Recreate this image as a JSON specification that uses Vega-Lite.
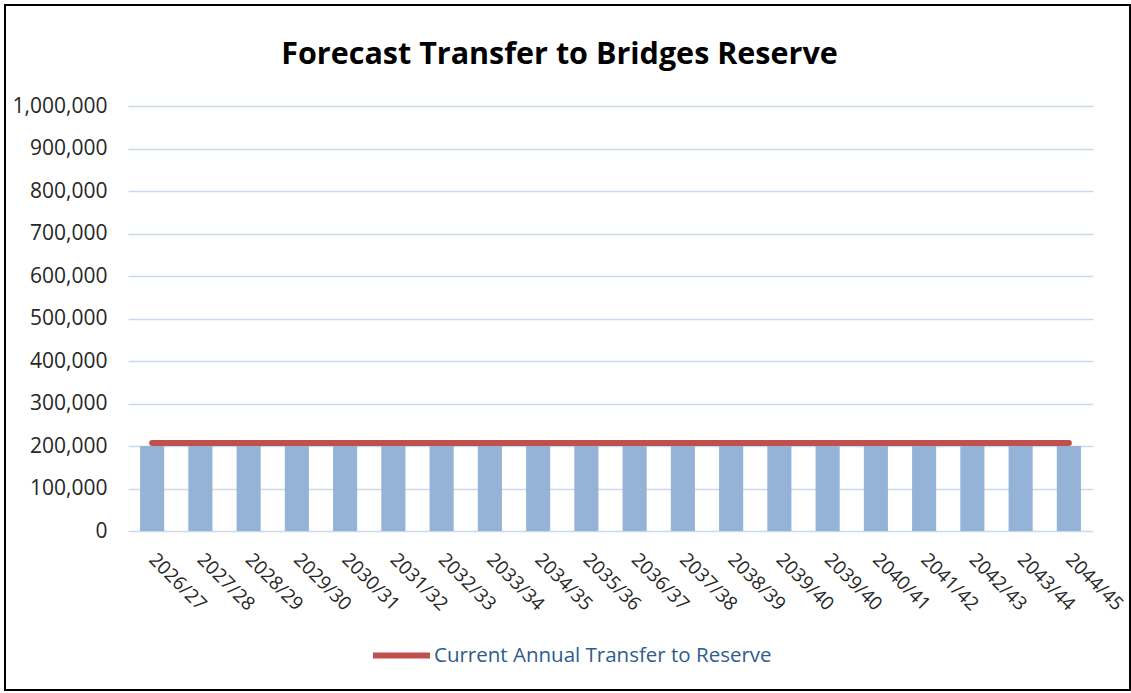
{
  "$schema": "https://vega.github.io/schema/vega-lite/v6.json",
  "autosize": "none",
  "width": 1125,
  "height": 685,
  "padding": {"left": 5, "top": 5, "right": 1, "bottom": 3},
  "background": "white",
  "config": {
    "view": {"stroke": "black", "strokeWidth": 2},
    "font": "Open Sans"
  },
  "title": {
    "text": "Forecast Transfer to Bridges Reserve",
    "font": "Open Sans",
    "fontSize": 30.5,
    "fontWeight": "bold",
    "color": "black",
    "anchor": "middle",
    "dx": -8,
    "offset": -65
  },
  "data": {
    "values": [
      {"period": "2026/27", "forecast": 200000, "current": 207000},
      {"period": "2027/28", "forecast": 200000, "current": 207000},
      {"period": "2028/29", "forecast": 200000, "current": 207000},
      {"period": "2029/30", "forecast": 200000, "current": 207000},
      {"period": "2030/31", "forecast": 200000, "current": 207000},
      {"period": "2031/32", "forecast": 200000, "current": 207000},
      {"period": "2032/33", "forecast": 200000, "current": 207000},
      {"period": "2033/34", "forecast": 200000, "current": 207000},
      {"period": "2034/35", "forecast": 200000, "current": 207000},
      {"period": "2035/36", "forecast": 200000, "current": 207000},
      {"period": "2036/37", "forecast": 200000, "current": 207000},
      {"period": "2037/38", "forecast": 200000, "current": 207000},
      {"period": "2038/39", "forecast": 200000, "current": 207000},
      {"period": "2039/40", "forecast": 200000, "current": 207000},
      {"period": "2039/40 ", "forecast": 200000, "current": 207000},
      {"period": "2040/41", "forecast": 200000, "current": 207000},
      {"period": "2041/42", "forecast": 200000, "current": 207000},
      {"period": "2042/43", "forecast": 200000, "current": 207000},
      {"period": "2043/44", "forecast": 200000, "current": 207000},
      {"period": "2044/45", "forecast": 200000, "current": 207000}
    ]
  },
  "encoding": {
    "x": {
      "field": "period",
      "type": "nominal",
      "sort": null,
      "scale": {"range": [123, 1088], "paddingInner": 0.5, "paddingOuter": 0.25},
      "axis": {
        "title": null,
        "orient": "bottom",
        "offset": -159,
        "domain": false,
        "ticks": false,
        "grid": false,
        "labelAngle": 45,
        "labelAlign": "left",
        "labelBaseline": "middle",
        "labelPadding": 25,
        "labelFontSize": 19,
        "labelColor": "#262626",
        "labelFont": "Open Sans"
      }
    }
  },
  "layer": [
    {
      "mark": {"type": "bar", "color": "#95B3D7"},
      "encoding": {
        "y": {
          "field": "forecast",
          "type": "quantitative",
          "scale": {"domain": [0, 1000000], "range": [526, 101], "nice": false},
          "axis": {
            "title": null,
            "orient": "left",
            "offset": -123,
            "domain": false,
            "ticks": false,
            "grid": true,
            "gridColor": "#C9DAEE",
            "gridWidth": 1.5,
            "values": [0, 100000, 200000, 300000, 400000, 500000, 600000, 700000, 800000, 900000, 1000000],
            "format": ",.0f",
            "labelPadding": 21,
            "labelFontSize": 21,
            "labelColor": "#262626",
            "labelFont": "Open Sans"
          }
        }
      }
    },
    {
      "mark": {"type": "line", "strokeWidth": 6, "strokeCap": "round"},
      "encoding": {
        "y": {"field": "current", "type": "quantitative"},
        "color": {
          "datum": "Current Annual Transfer to Reserve",
          "type": "nominal",
          "scale": {"range": ["#C0504D"]},
          "legend": {
            "title": null,
            "orient": "none",
            "legendX": 365,
            "legendY": 619,
            "padding": 0,
            "symbolType": "stroke",
            "symbolSize": 3249,
            "symbolStrokeWidth": 6,
            "labelFontSize": 20.5,
            "labelFont": "Open Sans",
            "labelColor": "#2F5B8E",
            "labelOffset": 1,
            "labelLimit": 0
          }
        }
      }
    }
  ]
}
